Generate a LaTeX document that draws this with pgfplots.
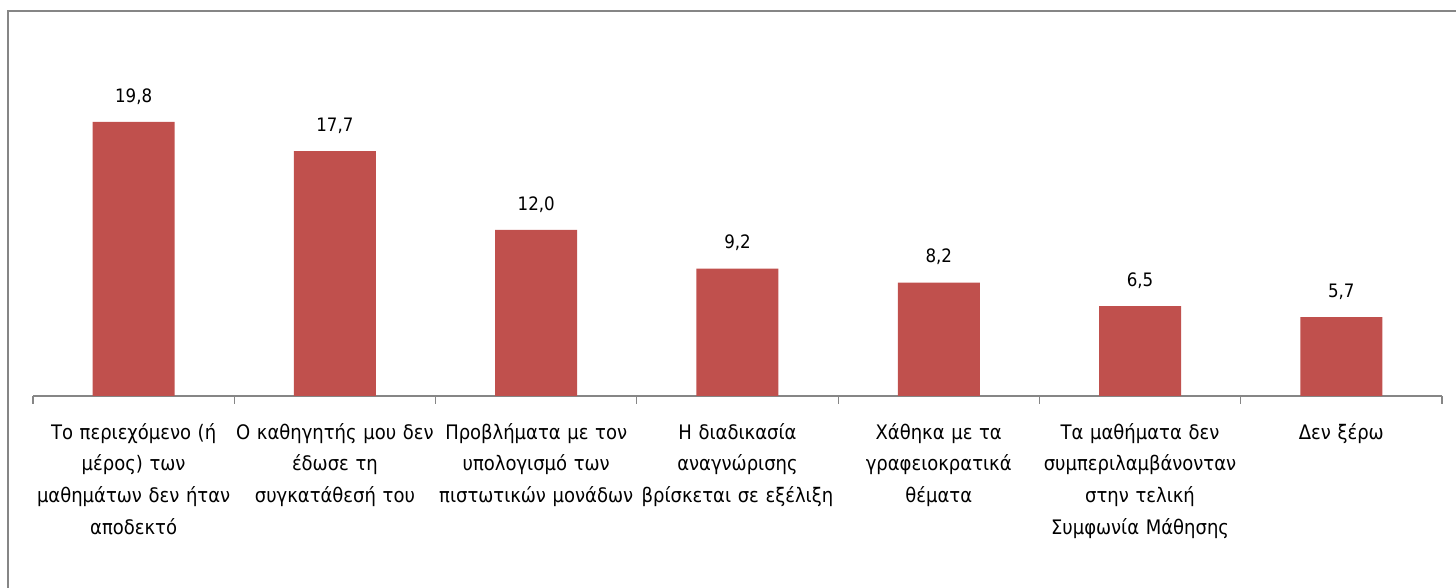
\documentclass[border=0pt]{standalone}
\usepackage{pgfplots}
\pgfplotsset{compat=1.18}
\usepackage{fontspec}
\setmainfont{DejaVu Sans Condensed}
\definecolor{barred}{HTML}{C0504D}
\definecolor{axgray}{HTML}{868686}
\begin{document}
\begin{tikzpicture}[x=1pt,y=1pt]
\useasboundingbox (0,0) rectangle (1456,588);
\draw[color=axgray, line width=1.5pt] (8,0) -- (8,577) -- (1460,577);
\begin{axis}[
  at={(33pt,192pt)}, anchor=south west,
  scale only axis, width=1409pt, height=346pt,
  xmin=-0.5, xmax=6.5, ymin=0, ymax=25,
  axis x line*=bottom, axis y line=none,
  x axis line style={axgray, line width=1.2pt, -},
  xtick={0,...,6}, major tick length=0pt,
  minor xtick={-0.5,0.5,...,6.5}, minor tick length=8pt,
  xtick align=outside,
  minor tick style={axgray, line width=1.2pt},
  ytick=\empty,
  xticklabels={
    {Το περιεχόμενο (ή\\μέρος) των\\μαθημάτων δεν ήταν\\αποδεκτό},
    {Ο καθηγητής μου δεν\\έδωσε τη\\συγκατάθεσή του},
    {Προβλήματα με τον\\υπολογισμό των\\πιστωτικών μονάδων},
    {Η διαδικασία\\αναγνώρισης\\βρίσκεται σε εξέλιξη},
    {Χάθηκα με τα\\γραφειοκρατικά\\θέματα},
    {Τα μαθήματα δεν\\συμπεριλαμβάνονταν\\στην τελική\\Συμφωνία Μάθησης},
    {Δεν ξέρω}},
  x tick label style={font=\fontsize{20}{31.7}\selectfont, text width=215pt, align=center, anchor=north, yshift=-23.5pt},
  ybar, bar width=82pt,
  nodes near coords,
  /pgf/number format/.cd, fixed, fixed zerofill, precision=1, use comma, assume math mode=true,
  /pgfplots/.cd,
  nodes near coords style={font=\fontsize{18.5}{22}\selectfont, yshift=14pt},
]
\addplot[fill=barred, draw=none] coordinates {(0,19.8) (1,17.7) (2,12.0) (3,9.2) (4,8.2) (5,6.5) (6,5.7)};
\end{axis}
\end{tikzpicture}
\end{document}
